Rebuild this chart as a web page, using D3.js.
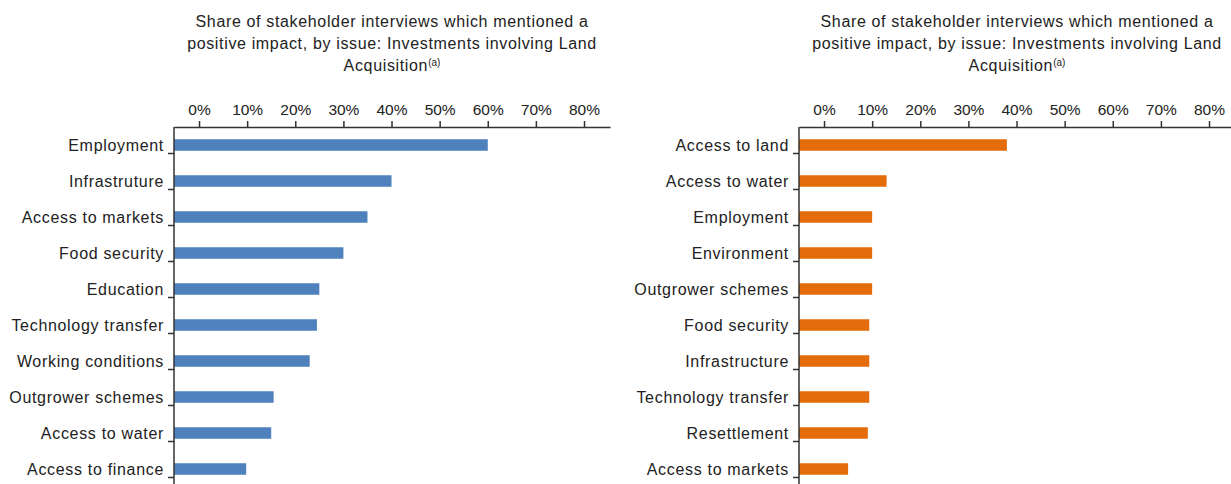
<!DOCTYPE html>
<html>
<head>
<meta charset="utf-8">
<script src="https://cdn.jsdelivr.net/npm/d3@7"></script>
<style>
  body { margin: 0; background: #fff; }
  svg { display: block; font-family: 'Liberation Sans', Arial, sans-serif; }
</style>
</head>
<body>
<div id="chart"></div>
<script>
// Data
const leftCategories = ['Employment', 'Infrastruture', 'Access to markets', 'Food security', 'Education',
    'Technology transfer', 'Working conditions', 'Outgrower schemes', 'Access to water', 'Access to finance'];
const leftValues = [0.60, 0.40, 0.35, 0.30, 0.25, 0.245, 0.23, 0.155, 0.15, 0.098];

const rightCategories = ['Access to land', 'Access to water', 'Employment', 'Environment', 'Outgrower schemes',
    'Food security', 'Infrastructure', 'Technology transfer', 'Resettlement', 'Access to markets'];
const rightValues = [0.38, 0.13, 0.10, 0.10, 0.10, 0.094, 0.094, 0.094, 0.091, 0.05];

const tickValues = [0, 0.1, 0.2, 0.3, 0.4, 0.5, 0.6, 0.7, 0.8];
const titleLines = ['Share of stakeholder interviews which mentioned a',
    'positive impact, by issue: Investments involving Land', 'Acquisition'];
const titleNote = '(a)';

const width = 1231;
const height = 484;

const svg = d3.select('#chart').append('svg')
    .attr('width', width)
    .attr('height', height);

function createBarChart(offsetX, categories, values, color) {
    const plotWidth = 436;
    const axisY = 127;
    const g = svg.append('g').attr('transform', `translate(${offsetX},0)`);

    // the value axis starts a little below 0% in the original
    const x = d3.scaleLinear().domain([-0.052, 0.854]).range([0, plotWidth]);
    const y = d3.scaleBand()
        .domain(categories)
        .range([axisY, axisY + 36 * categories.length])
        .paddingInner(0.68)
        .paddingOuter(0.34);

    // Title
    const title = g.append('text')
        .attr('text-anchor', 'middle')
        .style('font-size', '16px')
        .style('letter-spacing', '0.65px')
        .attr('fill', '#222');
    titleLines.forEach((line, i) => {
        title.append('tspan')
            .attr('x', plotWidth / 2)
            .attr('y', 26.5 + i * 22)
            .text(line);
    });
    title.append('tspan')
        .attr('dy', -5)
        .style('font-size', '10px')
        .style('letter-spacing', '0px')
        .text(titleNote);

    // Bars
    g.selectAll('.bar')
        .data(values)
        .enter()
        .append('rect')
        .attr('class', 'bar')
        .attr('x', x(x.domain()[0]))
        .attr('y', (d, i) => y(categories[i]))
        .attr('width', d => x(d) - x(x.domain()[0]))
        .attr('height', y.bandwidth())
        .attr('fill', color);

    // Top axis
    const xAxis = g.append('g')
        .attr('transform', `translate(0,${axisY})`)
        .call(d3.axisTop(x)
            .tickValues(tickValues)
            .tickFormat(d3.format('.0%'))
            .tickSizeInner(6)
            .tickSizeOuter(0)
            .tickPadding(6));
    xAxis.selectAll('text')
        .style('font-size', '15.5px')
        .style('font-family', "'Liberation Sans', Arial, sans-serif")
        .attr('fill', '#222');
    xAxis.selectAll('path, line').attr('stroke', '#333').attr('stroke-width', 1.5);

    // Left axis: labels, then the little ticks which sit below each label
    const yAxis = g.append('g')
        .call(d3.axisLeft(y).tickSize(0).tickPadding(10));
    yAxis.select('.domain').remove();
    yAxis.selectAll('text')
        .attr('dy', '0.36em')
        .style('font-size', '16px')
        .style('letter-spacing', '0.68px')
        .style('font-family', "'Liberation Sans', Arial, sans-serif")
        .attr('fill', '#222');

    g.append('line')
        .attr('x1', 0).attr('x2', 0)
        .attr('y1', axisY).attr('y2', height)
        .attr('stroke', '#333')
        .attr('stroke-width', 1.5);

    g.selectAll('.ytick')
        .data(categories)
        .enter()
        .append('line')
        .attr('class', 'ytick')
        .attr('x1', -6).attr('x2', 0)
        .attr('y1', d => y(d) + y.bandwidth() / 2 + 8.5)
        .attr('y2', d => y(d) + y.bandwidth() / 2 + 8.5)
        .attr('stroke', '#333')
        .attr('stroke-width', 1.5);
}

createBarChart(174, leftCategories, leftValues, '#4F81BD');
createBarChart(799, rightCategories, rightValues, '#E46C0A');
</script>
</body>
</html>
